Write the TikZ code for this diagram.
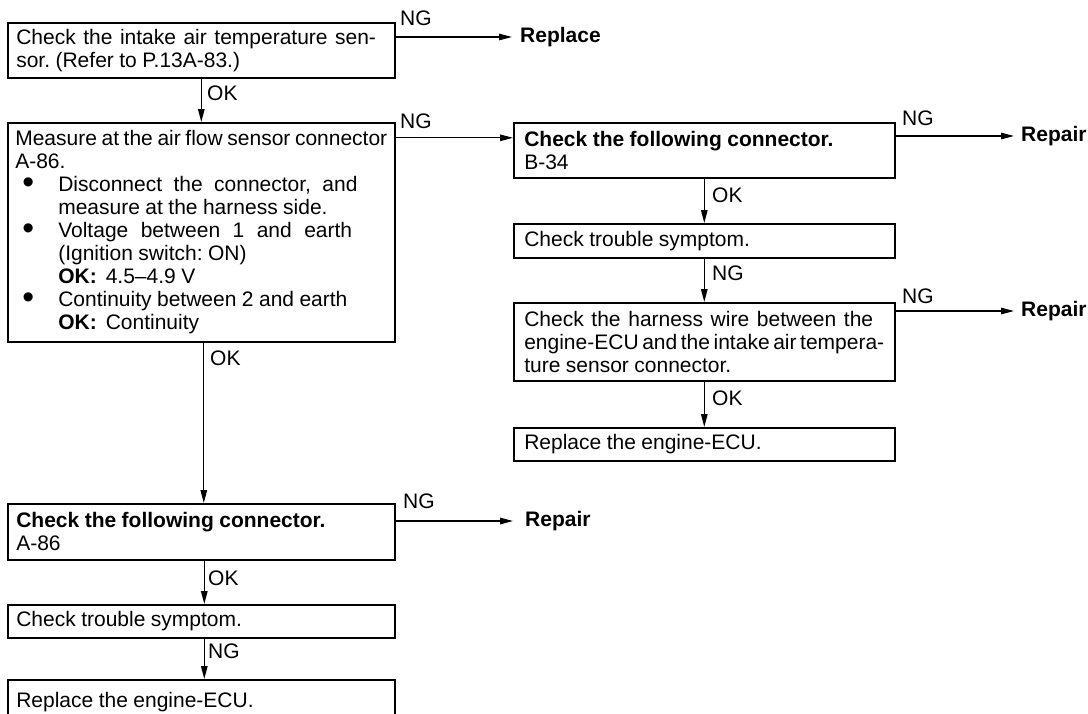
\documentclass[tikz,border=0pt]{standalone}
\usepackage{graphicx}
\usepackage{fontspec}
\setmainfont{Liberation Sans}
\usetikzlibrary{arrows.meta,calc}
\setlength{\parindent}{0pt}
\newcommand{\bul}{\makebox[43pt][l]{\hspace{7pt}\raisebox{-2.2pt}[0pt][0pt]{\scalebox{1.6}{\textbullet}}}}
\newcommand{\okb}{\textbf{OK:}\hspace{9pt}}
\newcommand{\bx}{\frenchspacing\spaceskip=0.26em plus 0.4em minus 0.15em\relax
  \hyphenpenalty=10000\relax\exhyphenpenalty=10000\relax
  \tolerance=10000\relax\hbadness=10000\relax}
\newcommand{\boxfont}{\fontsize{21}{23}\selectfont}
\begin{document}
\begin{tikzpicture}[x=1pt,y=-1pt,
  box/.style={draw, line width=1.6pt, anchor=north west, inner ysep=0pt, font=\boxfont},
  lbox/.style={box, text width=370pt, inner xsep=8.5pt},
  rbox/.style={box, text width=360pt, inner xsep=10.5pt},
  lbl/.style={anchor=base west, inner sep=0pt, font=\boxfont},
  tgt/.style={anchor=west, inner sep=0pt, font=\boxfont\bfseries},
  arr/.style={line width=1.3pt, -{Triangle[length=13pt,width=6.5pt]}}
]
\useasboundingbox (0,0) rectangle (1088,713);
\clip (0,0) rectangle (1088,713);

% left column
\node[lbox, minimum height=55pt] (b1) at (7,22)
  {\bx Check the intake air temperature sen-\linebreak sor. (Refer to P.13A-83.)\par};
\node[lbox, text width=372pt, inner xsep=7.5pt, minimum height=219pt] (b2) at (7,122)
  {\bx Measure at the air flow sensor connector\linebreak A-86.\par
   \hangindent=43pt\hangafter=1\bul Disconnect the connector, and\linebreak measure at the harness side.\par
   \hangindent=43pt\hangafter=1\bul Voltage between 1 and earth\linebreak (Ignition switch: ON)\newline\okb 4.5\textendash4.9 V\par
   \hangindent=43pt\hangafter=1\bul Continuity between 2 and earth\newline\okb Continuity\par};
\node[lbox, minimum height=56pt] (b7) at (7,503)
  {\bx\textbf{Check the following connector.}\newline A-86\par};
\node[lbox, minimum height=33pt] (b8) at (7,604) {\bx Check trouble symptom.\par};
\node[lbox, minimum height=44pt] (b9) at (7,679) {\bx Replace the engine-ECU.\par};

% right column
\node[rbox, minimum height=55pt] (b3) at (513,122)
  {\bx\textbf{Check the following connector.}\newline B-34\par};
\node[rbox, minimum height=34pt] (b4) at (513,223) {\bx Check trouble symptom.\par};
\node[rbox, minimum height=78pt] (b5) at (513,302)
  {\bx Check the harness wire between the\linebreak engine-ECU and the intake air tempera-\linebreak ture sensor connector.\par};
\node[rbox, minimum height=33pt] (b6) at (513,427) {\bx Replace the engine-ECU.\par};

% targets
\node[tgt] (r1) at (520,37) {Replace};
\node[tgt] (r3) at (1021,136) {Repair};
\node[tgt] (r5) at (1021,311) {Repair};
\node[tgt] (r7) at (525,521) {Repair};

% vertical connectors
\draw[arr] (b1.south) -- (b1.south |- b2.north);
\coordinate (c2) at ($(b2.south)+(2.5,0)$);
\draw[arr] (c2) -- (c2 |- b7.north);
\coordinate (c7) at ($(b7.south)+(3,0)$);
\draw[arr] (c7) -- (c7 |- b8.north);
\coordinate (c8) at ($(b8.south)+(3,0)$);
\draw[arr] (c8) -- (c8 |- b9.north);
\draw[arr] (b3.south) -- (b3.south |- b4.north);
\draw[arr] (b4.south) -- (b4.south |- b5.north);
\draw[arr] (b5.south) -- (b5.south |- b6.north);

% horizontal connectors
\draw[arr, shorten >=8pt] (b1.east |- r1.west) -- (r1.west);
\coordinate (p3) at ($(b3.west)+(0,-12.5)$);
\draw[arr] (b2.east |- p3) -- (p3);
\draw[arr, shorten >=7pt] (b3.east |- r3.west) -- (r3.west);
\draw[arr, shorten >=7pt] (b5.east |- r5.west) -- (r5.west);
\draw[arr, shorten >=12pt] (b7.east |- r7.west) -- (r7.west);

% labels
\node[lbl] (ng1) at (400,25) {NG};
\node[lbl] (ng2) at (400,128) {NG};
\node[lbl] (ng3) at (902,125) {NG};
\node[lbl] (ng5) at (902,303) {NG};
\node[lbl] (ng7) at (403,508) {NG};
\node[lbl] (ok1) at (207,100) {OK};
\node[lbl] (ok2) at (210,365) {OK};
\node[lbl] (ok7) at (208,585) {OK};
\node[lbl] (ng8) at (208,658) {NG};
\node[lbl] (ok3) at (712,202) {OK};
\node[lbl] (ng4) at (712,280) {NG};
\node[lbl] (ok5) at (712,405) {OK};
\end{tikzpicture}
\end{document}
